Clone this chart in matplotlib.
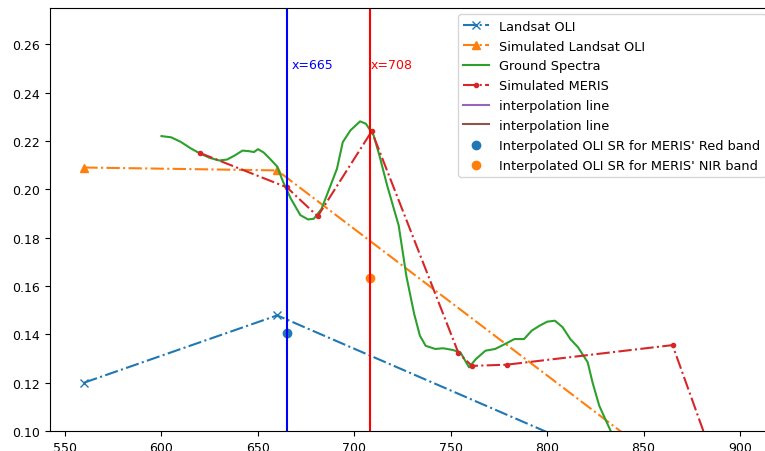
import matplotlib
matplotlib.use("Agg")
from matplotlib import pyplot as plt

# Landsat OLI bands (nm) and reflectance
oli_wl = [560, 660, 865]
oli_sr = [0.1200, 0.1478, 0.0770]

sim_oli_wl = [560, 660, 865]
sim_oli_sr = [0.2090, 0.2078, 0.0835]

# ground measured spectrum
ground_wl = [600, 605, 610, 615, 620, 625, 630, 634, 638, 642, 645, 648, 650, 653,
             656, 660, 663, 667, 672, 676, 679, 683, 687, 691, 694, 698, 703, 706,
             710, 713, 717, 720, 723, 725, 727, 731, 734, 737, 742, 746, 751, 755,
             757, 759.5, 763, 768, 773, 778, 783, 788, 792, 796, 800, 804, 808, 812,
             816, 821, 823.5, 827, 832.5, 836]
ground_sr = [0.2220, 0.2215, 0.2196, 0.2170, 0.2148, 0.2130, 0.2119, 0.2123, 0.2140,
             0.2160, 0.2158, 0.2154, 0.2166, 0.2152, 0.2128, 0.2094, 0.2032, 0.1962,
             0.1893, 0.1875, 0.1878, 0.1919, 0.2002, 0.2085, 0.2195, 0.2244, 0.2281,
             0.2271, 0.2223, 0.2140, 0.2016, 0.1933, 0.1850, 0.1745, 0.1640, 0.1485,
             0.1394, 0.1352, 0.1339, 0.1342, 0.1335, 0.1325, 0.1297, 0.1263, 0.1297,
             0.1332, 0.1339, 0.1359, 0.1380, 0.1380, 0.1415, 0.1435, 0.1452, 0.1456,
             0.1429, 0.1380, 0.1346, 0.1284, 0.1201, 0.1104, 0.1007, 0.0950]

# simulated MERIS bands
meris_wl = [620, 665, 681, 709, 754, 761, 779, 865, 885]
meris_sr = [0.2150, 0.2008, 0.1888, 0.2240, 0.1322, 0.1269, 0.1274, 0.1355, 0.0910]

red_band = 665
nir_band = 708
interp_red = 0.1404
interp_nir = 0.1633

fig = plt.figure(figsize=(7.65, 4.52), dpi=100)
# axes run a bit past the right edge, like the cropped original
ax = fig.add_axes([0.0654, 0.0445, 0.9438, 0.9355])

ax.plot(oli_wl, oli_sr, "x-.", color="C0", label="Landsat OLI")
ax.plot(sim_oli_wl, sim_oli_sr, "^-.", color="C1", label="Simulated Landsat OLI")
ax.plot(ground_wl, ground_sr, "-", color="C2", label="Ground Spectra")
ax.plot(meris_wl, meris_sr, ".-.", color="C3", label="Simulated MERIS")
ax.plot([], [], color="C4", label="interpolation line")
ax.plot([], [], color="C5", label="interpolation line")

ax.axvline(red_band, color="b")
ax.axvline(nir_band, color="r")
ax.text(red_band + 2.5, 0.25, "x=%d" % red_band, color="b", fontsize=9)
ax.text(nir_band + 0.5, 0.25, "x=%d" % nir_band, color="r", fontsize=9)

ax.scatter([red_band], [interp_red], color="C0", label="Interpolated OLI SR for MERIS' Red band")
ax.scatter([nir_band], [interp_nir], color="C1", label="Interpolated OLI SR for MERIS' NIR band")

ax.set_xlim(542.2, 916.6)
ax.set_ylim(0.10, 0.275)
ax.set_xticks([550, 600, 650, 700, 750, 800, 850, 900])
ax.set_yticks([0.10, 0.12, 0.14, 0.16, 0.18, 0.20, 0.22, 0.24, 0.26])
ax.tick_params(labelsize=9)

ax.legend(loc="upper right", fontsize=9.3, labelspacing=0.53)
fig.savefig("out.png", dpi=100)
